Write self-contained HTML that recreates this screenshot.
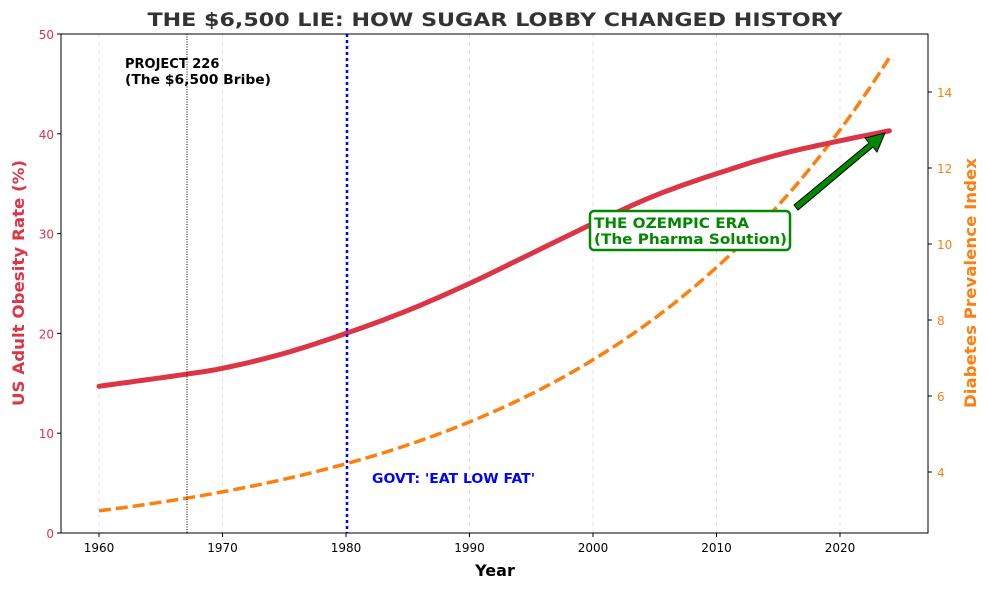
<!DOCTYPE html>
<html><head><meta charset="utf-8"><style>
body{margin:0;background:#fff;}
svg{font-family:"DejaVu Sans","Liberation Sans",sans-serif;}
</style></head><body>
<svg id="s" width="989" height="590" viewBox="0 0 989 590" xmlns="http://www.w3.org/2000/svg">
<rect width="989" height="590" fill="#fff"/>
<text x="495" y="26" text-anchor="middle" font-size="19" font-weight="bold" fill="#333" textLength="695" lengthAdjust="spacingAndGlyphs">THE $6,500 LIE: HOW SUGAR LOBBY CHANGED HISTORY</text>
<g id="grid" stroke="#ddd" stroke-dasharray="4,4" stroke-width="0.8"></g>
<g id="curves"></g>
<line x1="187" y1="34" x2="187" y2="533" stroke="#000" stroke-width="1" stroke-dasharray="1,1.5"/>
<line x1="347" y1="34" x2="347" y2="533" stroke="#00f" stroke-width="2.5" stroke-dasharray="3,3"/>
<text x="125" y="68" font-size="13" font-weight="bold">PROJECT 226</text>
<text x="125" y="84" font-size="13" font-weight="bold" textLength="146" lengthAdjust="spacingAndGlyphs">(The $6,500 Bribe)</text>
<text x="372" y="483" font-size="13" font-weight="bold" fill="#00f" textLength="163" lengthAdjust="spacingAndGlyphs">GOVT: 'EAT LOW FAT'</text>
<rect x="590" y="211" width="200" height="39" rx="4" fill="#fff" stroke="#080" stroke-width="2.5"/>
<text x="594" y="228" font-size="14" font-weight="bold" fill="#080" textLength="155" lengthAdjust="spacingAndGlyphs">THE OZEMPIC ERA</text>
<text x="594" y="244" font-size="14" font-weight="bold" fill="#080" textLength="193" lengthAdjust="spacingAndGlyphs">(The Pharma Solution)</text>
<polygon points="794,205 869,143 865,138 885,133 877,152 873,147 798,210" fill="#080" stroke="#000" stroke-width="1"/>
<rect x="61" y="34" width="867" height="499" fill="none" stroke="#000" stroke-width="1"/>
<g id="ax" font-size="12"></g>
<text x="495" y="576" text-anchor="middle" font-size="16" font-weight="bold">Year</text>
<text transform="translate(24,283) rotate(-90)" text-anchor="middle" font-size="16" font-weight="bold" fill="#dc3545" textLength="246" lengthAdjust="spacingAndGlyphs">US Adult Obesity Rate (%)</text>
<text transform="translate(976,283) rotate(-90)" text-anchor="middle" font-size="16" font-weight="bold" fill="#ff7f0e" textLength="250" lengthAdjust="spacingAndGlyphs">Diabetes Prevalence Index</text>
</svg>
<script>
const NS="http://www.w3.org/2000/svg";
function el(p,t,a,txt){const e=document.createElementNS(NS,t);for(const k in a)e.setAttribute(k,a[k]);if(txt!==undefined)e.textContent=txt;p.appendChild(e);return e;}
const X=y=>99+(y-1960)*12.35, YL=v=>533-v*9.98, YR=v=>472-(v-4)*38;
const g=document.getElementById('grid'),ax=document.getElementById('ax'),c=document.getElementById('curves');
for(let y=1960;y<=2020;y+=10){el(g,'line',{x1:X(y),y1:34,x2:X(y),y2:533});
el(ax,'line',{x1:X(y),y1:533,x2:X(y),y2:537,stroke:'#000'});
el(ax,'text',{x:X(y),y:552,'text-anchor':'middle'},y);}
for(let v=0;v<=50;v+=10){el(ax,'line',{x1:57,y1:YL(v),x2:61,y2:YL(v),stroke:'#000'});
el(ax,'text',{x:54,y:YL(v)+5,'text-anchor':'end',fill:'#dc3545'},v);}
for(let v=4;v<=14;v+=2){el(ax,'line',{x1:928,y1:YR(v),x2:932,y2:YR(v),stroke:'#000'});
el(ax,'text',{x:937,y:YR(v)+5,fill:'#ff7f0e'},v);}
const P=[[1960,14.7],[1967,15.9],[1970,16.5],[1975,18],[1980,20],[1985,22.3],[1990,25],[1995,28],[2000,31],[2005,33.8],[2010,36],[2015,37.9],[2020,39.3],[2024,40.3]];
let pts=[];
for(let t=1960;t<=2024;t+=0.5){let i=0;while(i<P.length-2&&P[i+1][0]<t)i++;
const p0=P[Math.max(i-1,0)],p1=P[i],p2=P[i+1],p3=P[Math.min(i+2,P.length-1)];
const u=(t-p1[0])/(p2[0]-p1[0]);const m1=(p2[1]-p0[1])/(p2[0]-p0[0])*(p2[0]-p1[0]),m2=(p3[1]-p1[1])/(p3[0]-p1[0])*(p2[0]-p1[0]);
const h00=2*u*u*u-3*u*u+1,h10=u*u*u-2*u*u+u,h01=-2*u*u*u+3*u*u,h11=u*u*u-u*u;
const v=h00*p1[1]+h10*m1+h01*p2[1]+h11*m2;pts.push(X(t).toFixed(1)+','+YL(v).toFixed(1));}
let o=[];for(let t=1960;t<=2024;t+=0.5){const v=1.96+1.02*Math.exp(0.0397*(t-1960));o.push(X(t).toFixed(1)+','+YR(v).toFixed(1));}
el(c,'polyline',{points:o.join(' '),fill:'none',stroke:'#ff7f0e','stroke-width':3.5,'stroke-dasharray':'12,5'});
el(c,'polyline',{points:pts.join(' '),fill:'none',stroke:'#dc3545','stroke-width':5,'stroke-linecap':'round'});
</script>
</body></html>
